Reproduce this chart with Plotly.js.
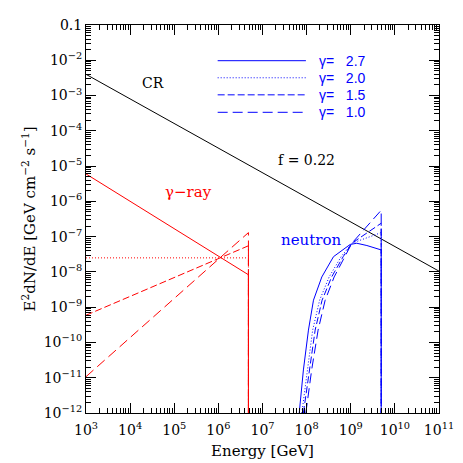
<!DOCTYPE html>
<html>
<head>
<meta charset="utf-8">
<script src="https://cdn.plot.ly/plotly-3.0.1.min.js"></script>
<style>html,body{margin:0;padding:0;background:#fff;}#chart{width:463px;height:463px;}</style>
</head>
<body>
<div id="chart"></div>
<script>
// ---- data ----
const crE = [1e3, 1e11];
const crFlux = [4.0e-3, 1.05e-8];

// gamma-ray spectra (red), cutoff at ~5e6 GeV
const gamE = [1e3, 4.8e6, 4.8e6];
const gam27 = [6.0e-6, 8.3e-9, 1e-13];
const gam20 = [2.5e-8, 2.5e-8, 1e-13];
const gam15 = [5.9e-10, 5.5e-8, 1e-13];
const gam10 = [1.07e-11, 1.3e-7, 1e-13];

// neutron spectra (blue), cutoff at ~4.9e9 GeV
const neuE27 = [6.8e7, 8.45e7, 1.1e8, 1.43e8, 2.21e8, 4.06e8, 9.7e8, 1.37e9, 2.32e9, 4.9e9, 4.9e9];
const neu27  = [1e-12, 1.66e-11, 2.24e-10, 1.58e-9, 7.2e-9, 2.7e-8, 6.0e-8, 6.5e-8, 5.6e-8, 4.2e-8, 1e-13];
const neuE20 = [7.8e7, 1.03e8, 1.37e8, 1.97e8, 3.24e8, 6.05e8, 1.06e9, 4.9e9, 4.9e9];
const neu20  = [1e-12, 1.66e-11, 2.24e-10, 1.58e-9, 7.2e-9, 2.7e-8, 6.5e-8, 1.3e-7, 1e-13];
const neuE15 = [8.45e7, 1.14e8, 1.56e8, 2.24e8, 3.69e8, 6.73e8, 1.06e9, 4.9e9, 4.9e9];
const neu15  = [1e-12, 1.66e-11, 2.24e-10, 1.58e-9, 7.2e-9, 2.7e-8, 6.5e-8, 2.4e-7, 1e-13];
const neuE10 = [9.6e7, 1.3e8, 1.82e8, 2.63e8, 4.21e8, 7.46e8, 1.06e9, 4.9e9, 4.9e9];
const neu10  = [1e-12, 1.66e-11, 2.24e-10, 1.58e-9, 7.2e-9, 2.7e-8, 6.5e-8, 5.6e-7, 1e-13];

const legendLabels = ['γ=\u00a0\u00a0\u00a02.7', 'γ=\u00a0\u00a0\u00a02.0', 'γ=\u00a0\u00a0\u00a01.5', 'γ=\u00a0\u00a0\u00a01.0'];
const xTickVals = [1e3,1e4,1e5,1e6,1e7,1e8,1e9,1e10,1e11];
const xTickText = ['10<sup>3</sup>','10<sup>4</sup>','10<sup>5</sup>','10<sup>6</sup>','10<sup>7</sup>','10<sup>8</sup>','10<sup>9</sup>','10<sup>10</sup>','10<sup>11</sup>'];
const yTickVals = [1e-1,1e-2,1e-3,1e-4,1e-5,1e-6,1e-7,1e-8,1e-9,1e-10,1e-11,1e-12];
const yTickText = ['0.1','10<sup>−2</sup>','10<sup>−3</sup>','10<sup>−4</sup>','10<sup>−5</sup>','10<sup>−6</sup>','10<sup>−7</sup>','10<sup>−8</sup>','10<sup>−9</sup>','10<sup>−10</sup>','10<sup>−11</sup>','10<sup>−12</sup>'];

// ---- styles ----
const RED = '#ff0000', BLUE = '#0000ff';
const dashes = ['solid', '1px,2px', '7px,3px', '10px,5px'];

function minorVals(lo, hi) {
  const v = [];
  for (let p = lo; p < hi; p++) for (let k = 2; k <= 9; k++) v.push(k * Math.pow(10, p));
  return v;
}

const traces = [];
traces.push({x: crE, y: crFlux, mode: 'lines', line: {color: '#000', width: 1}, showlegend: false, hoverinfo: 'skip'});
[gam27, gam20, gam15, gam10].forEach((s, i) => traces.push({
  x: gamE, y: s, mode: 'lines', line: {color: RED, width: 1, dash: dashes[i]}, showlegend: false, hoverinfo: 'skip'}));
[[neuE27, neu27], [neuE20, neu20], [neuE15, neu15], [neuE10, neu10]].forEach((p, i) => traces.push({
  x: p[0], y: p[1], mode: 'lines', line: {color: BLUE, width: 1, dash: dashes[i]}, showlegend: false, hoverinfo: 'skip'}));

const serif = 'DejaVu Serif, serif';
const shapes = [], annotations = [];
const legY = [0.908, 0.864, 0.820, 0.775];
legendLabels.forEach((t, i) => {
  shapes.push({type: 'line', xref: 'paper', yref: 'paper', x0: 0.373, x1: 0.623, y0: legY[i], y1: legY[i],
    line: {color: BLUE, width: 1, dash: dashes[i]}});
  annotations.push({xref: 'paper', yref: 'paper', x: 0.655, y: legY[i], xanchor: 'left', yanchor: 'middle',
    text: t, showarrow: false, font: {family: 'Liberation Sans, sans-serif', size: 14, color: BLUE}});
});
annotations.push({xref: 'paper', yref: 'paper', x: 0.153, y: 0.876, text: 'CR', showarrow: false,
  font: {family: serif, size: 14, color: '#000'}});
annotations.push({xref: 'paper', yref: 'paper', x: 0.712, y: 0.652, text: 'f = 0.22', showarrow: false,
  font: {family: serif, size: 14, color: '#000'}});
annotations.push({xref: 'paper', yref: 'paper', x: 0.217, y: 0.570, text: 'γ−ray', showarrow: false,
  font: {family: serif, size: 15, color: RED}});
annotations.push({xref: 'paper', yref: 'paper', x: 0.638, y: 0.446, text: 'neutron', showarrow: false,
  font: {family: serif, size: 15, color: BLUE}});

const axisCommon = {
  showgrid: false, zeroline: false, showline: true, linecolor: '#000', linewidth: 1, mirror: 'allticks',
  ticks: 'inside', ticklen: 10, tickwidth: 1, tickcolor: '#000', tickmode: 'array',
  tickfont: {family: serif, size: 14, color: '#000'}
};

const layout = {
  width: 463, height: 463,
  margin: {l: 86, r: 24, t: 25, b: 50},
  paper_bgcolor: '#fff', plot_bgcolor: '#fff',
  showlegend: false,
  xaxis: Object.assign({}, axisCommon, {
    type: 'log', range: [3, 11], tickvals: xTickVals, ticktext: xTickText, ticklabelstandoff: 4,
    minor: {tickmode: 'array', tickvals: minorVals(3, 11), ticks: 'inside', ticklen: 5, tickcolor: '#000', showgrid: false},
    title: {text: 'Energy [GeV]', font: {family: serif, size: 15, color: '#000'}, standoff: 8}
  }),
  yaxis: Object.assign({}, axisCommon, {
    type: 'log', range: [-12, -1], tickvals: yTickVals, ticktext: yTickText,
    minor: {tickmode: 'array', tickvals: minorVals(-12, -1), ticks: 'inside', ticklen: 5, tickcolor: '#000', showgrid: false},
    title: {text: 'E<sup>2</sup>dN/dE [GeV cm<sup>−2</sup> s<sup>−1</sup>]', font: {family: serif, size: 15, color: '#000'}, standoff: 4}
  }),
  shapes: shapes,
  annotations: annotations
};

Plotly.newPlot('chart', traces, layout, {staticPlot: true, displayModeBar: false});
</script>
</body>
</html>
